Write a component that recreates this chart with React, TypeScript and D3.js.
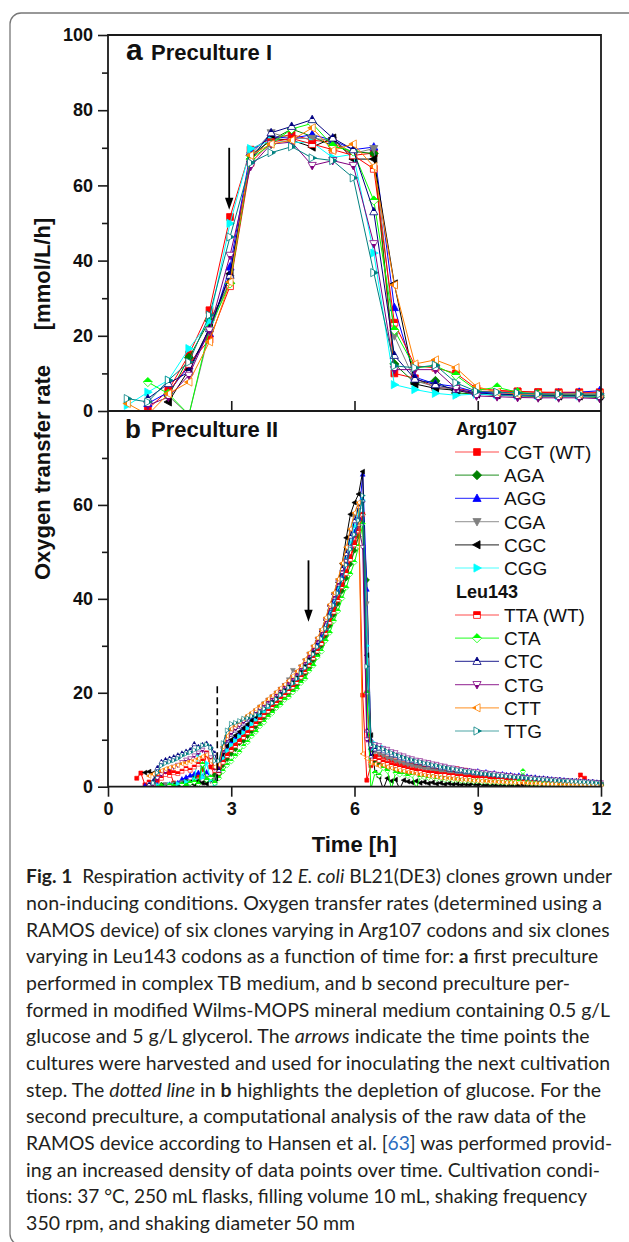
import React, { useEffect, useRef } from 'react';
import * as d3 from 'd3';

const FONT = '"Liberation Sans", Arial, Helvetica, sans-serif';
const CAP_FONT = 'Lato, "Open Sans", sans-serif';

const SERIES_NAMES = ['CGT (WT)', 'AGA', 'AGG', 'CGA', 'CGC', 'CGG', 'TTA (WT)', 'CTA', 'CTC', 'CTG', 'CTT', 'TTG'];
const SERIES_COLORS = ['#ff0000', '#008000', '#0000ff', '#808080', '#000000', '#00ffff', '#ff0000', '#00ff00', '#000080', '#800080', '#ff8000', '#008080'];
const SERIES_SHAPES = ['square', 'diamond', 'up', 'down', 'left', 'right', 'square', 'diamond', 'up', 'down', 'left', 'right'];
const SERIES_HALF = [false, false, false, false, false, false, true, true, true, true, true, true];
const GROUP_TITLES = ['Arg107', 'Leu143'];

const X_TICKS = [0, 3, 6, 9, 12];
const YA_TICKS = [0, 20, 40, 60, 80, 100];
const YA_MINOR = [10, 30, 50, 70, 90];
const YB_TICKS = [0, 20, 40, 60];
const YB_MINOR = [10, 30, 50, 70];

// ---------- Panel a (Preculture I) ----------
const A_TIMES = [0.47, 0.97, 1.47, 1.97, 2.47, 2.97, 3.47, 3.97, 4.47, 4.97, 5.47, 5.97, 6.47, 6.97, 7.47, 7.97, 8.47, 8.97, 9.47, 9.97, 10.47, 10.97, 11.47, 11.97];
const A_CGT = [null, 0.5, 5.5, 15, 26.8, 51.6, 69.5, 72.5, 73.5, 72, 71.5, 68, 68.6, 10, 8.7, 6.3, 6, 5.2, 5.3, 5.2, 5, 5, 5, 5];
const A_AGA = [null, null, 4, 14.2, 24, 34, 68, 72, 75, 73, 70.5, 69, 68.5, 12.5, 7.5, 8, 4.8, 4.5, 4.2, 4, 3.8, 3.8, 3.8, 3.6];
const A_AGG = [null, 2, 5, 12, 20.6, 38.3, 69, 73, 72.5, 73.5, 72, 69.5, 70.2, 27.5, 9, 7.2, 6.5, 5, 4.8, 4.7, 4.7, 4.8, 5, 5.4];
const A_CGA = [null, null, 4, -1, 21, 35.2, 68, 74, 72.5, 72.5, 72, 68.5, 69.8, 20, 8, 6.5, 5.7, 4.5, 4.2, 4, 4, 4, 3.9, 3.8];
const A_CGC = [null, null, 2.4, 11, 22, 36.5, 67, 72.5, 72, 70.2, 72.6, 67, 67, 33.8, 7.2, 6, 5.5, 4.5, 4.3, 4.2, 4.1, 4, 4, 4];
const A_CGG = [1.5, 5, 8.2, 16.6, 23.7, 49.9, 69.8, 72, 71.5, 71.4, 67.4, 68.3, 42, 7, 5.7, 4.7, 4.2, 4.5, 4.3, 4.2, 4.1, 4, 4, 4];
const A_TTA = [null, null, 5, 12.5, 19, 33.2, 66, 71.5, 72.5, 71, 69.5, 68, 64.4, 23.5, 12, 11.5, 10, 6, 5.5, 5.2, 5, 4.8, 4.8, 4.8];
const A_CTA = [null, 7.7, 4.6, -1, 22, 33.9, 67, 71, 75, 76.5, 70.5, 69, 56, 21.5, 11.5, 12, 9.5, 5.5, 6.3, 5, 4.5, 4.2, 4.2, 4];
const A_CTC = [null, 3.3, 7.3, 10.4, 21.9, 36.1, 67, 74, 75.7, 77.5, 72.6, 69.5, 53, 14.8, 8.5, 7, 5.8, 4.8, 4.5, 4.3, 4.2, 4.2, 4.2, 4.2];
const A_CTG = [null, 1.5, 3.7, 9.5, 21.5, 41.4, 65, 71, 71.5, 65.3, 66.6, 65.3, 44.5, 11, 11, 11, 6, 4, 3.8, 3.6, 3.5, 3.5, 3.5, 3.3];
const A_CTT = [2, -1, 4.6, 7.7, 18.4, 34.3, 68, 71, 72, 75.3, 69.3, 71, 65, 33.5, 12.5, 13.6, 11.5, 6.5, 5, 4.5, 4.5, 4.5, 4.5, 4.5];
const A_TTG = [3.3, 2.4, 8.2, 13, 25.5, 46.3, 66, 68.7, 70.3, 67.3, 66.6, 62, 36.8, 12, 11.5, 12.2, 7.5, 5.2, 5, 4.8, 4.5, 4.5, 4.5, 4.5];

// ---------- Panel b (Preculture II): samples every 0.1 h from 0.7 h ----------
const B_T0 = 0.7;
const B_STEP = 0.1;
const B_CGT = [
  1.8, 2.9, 0.4, 0.2, 0.5, 1.3, 3.1, 3.2, 3.3, 0.8,
  -0.6, -0.4, 0.3, 0.9, 1.6, 2.4, 3.6, 6.8, 4.2, 2.6,
  3.0, 5.4, 6.9, 8.1, 9.0, 10.0, 11.2, 11.8, 12.4, 13.6,
  14.5, 15.4, 16.3, 17.5, 18.1, 18.9, 19.4, 20.5, 21.4, 22.8,
  23.5, 24.7, 26.1, 27.3, 29.1, 30.8, 32.9, 35.3, 38.0, 40.1,
  43.0, 45.8, 49.0, 52.0, 57.0, 19.5, 1.4, 4.5, 6.5, 6.8,
  6.4, 6.1, 5.6, 5.5, 5.0, 4.9, 4.6, 4.8, 4.3, 4.5,
  4.2, 4.6, 4.0, 3.8, 3.9, 3.5, 3.7, 3.4, 3.8, 3.2,
  3.5, 3.0, 2.8, 2.9, 2.6, 2.5, 2.3, 2.4, 2.1, 2.0,
  1.8, 1.9, 1.6, 1.5, 1.4, 1.6, 1.3, 1.2, 1.1, 1.0,
  1.1, 0.9, 0.8, 0.8, 0.7, 0.8, 0.6, 0.7, 2.5, 1.8,
  0.7, 0.5, 0.5, 0.4,
];
const B_AGA = [
  null, null, null, 0.3, -0.5, 0.2, 0.4, -0.4, 0.3, 0.6,
  0.2, 0.9, 1.4, 0.8, 2.2, 1.0, 4.6, 1.2, 1.8, 2.5,
  2.6, 4.6, 5.9, 7.0, 8.0, 9.3, 9.8, 10.8, 11.8, 12.8,
  13.8, 14.7, 15.7, 16.2, 17.5, 18.4, 19.2, 19.9, 20.4, 21.7,
  22.8, 24.1, 25.3, 26.9, 28.0, 30.0, 32.1, 34.3, 36.6, 39.0,
  41.7, 44.4, 47.4, 50.3, 53.3, 58.0, 44.0, 8.0, 5.5, 4.8,
  4.5, 3.9, 4.2, 3.6, 3.3, 3.5, 3.0, 2.8, 3.1, 2.6,
  2.5, 2.3, 2.6, 2.2, 2.0, 2.1, 1.8, 1.9, 1.6, 1.7,
  1.5, 1.4, 1.6, 1.3, 1.2, 1.4, 1.1, 1.0, 1.2, 0.9,
  0.9, 1.0, 0.8, 0.8, 0.7, 0.9, 0.7, 0.6, 0.7, 0.6,
  0.5, 0.6, 0.5, 0.5, 0.4, 0.5, 0.4, 0.4, 0.5, 0.4,
  0.3, 0.4, 0.3, 0.3,
];
const B_AGG = [
  null, null, 0.2, -0.3, 0.1, 0.4, -0.2, 0.3, 0.5, 0.2,
  0.8, 1.6, 2.0, 2.4, 2.7, 3.0, 2.2, 3.1, 2.0, 1.2,
  3.7, 6.5, 8.4, 9.6, 10.5, 11.4, 12.2, 13.0, 14.2, 14.7,
  15.5, 16.3, 17.2, 18.0, 18.5, 19.7, 20.5, 21.3, 22.2, 23.2,
  24.8, 25.6, 27.0, 28.5, 30.1, 31.8, 33.6, 36.6, 38.9, 41.6,
  44.7, 47.7, 51.1, 54.3, 57.3, 66.5, 42.0, 10.0, 8.8, 8.4,
  7.9, 7.6, 7.1, 6.9, 6.5, 6.3, 5.9, 5.8, 5.5, 5.4,
  5.1, 5.0, 4.7, 4.6, 4.3, 4.2, 3.9, 3.9, 3.6, 3.6,
  3.4, 3.4, 3.2, 3.3, 3.0, 3.1, 2.8, 2.9, 2.6, 2.7,
  2.5, 2.5, 2.3, 2.4, 2.1, 2.2, 2.0, 2.0, 1.8, 1.8,
  1.7, 1.6, 1.5, 1.5, 1.4, 1.3, 1.3, 1.2, 1.1, 1.1,
  1.0, 1.0, 0.9, 0.9,
];
const B_CGA = [
  null, null, null, -0.3, 0.4, 0.2, -0.4, 0.5, 0.3, 0.6,
  0.4, 0.9, 0.5, 1.1, 0.6, 1.4, 0.8, 1.9, 1.2, 1.5,
  4.6, 8.2, 10.5, 11.9, 12.7, 13.5, 14.2, 14.9, 15.5, 16.2,
  17.0, 17.7, 18.5, 19.2, 20.0, 20.8, 21.6, 22.8, 24.8, 24.4,
  25.6, 26.9, 28.3, 29.8, 31.5, 33.3, 35.7, 38.5, 41.0, 43.9,
  47.2, 50.6, 54.4, 57.8, 59.0, 60.5, 39.0, 9.5, 7.5, 7.0,
  6.6, 6.1, 5.9, 5.4, 5.2, 4.9, 4.6, 4.5, 4.2, 4.1,
  3.8, 3.7, 3.5, 3.3, 3.2, 3.0, 2.9, 2.7, 2.7, 2.5,
  2.4, 2.3, 2.2, 2.2, 2.0, 2.0, 1.9, 1.8, 1.8, 1.7,
  1.6, 1.6, 1.5, 1.4, 1.4, 1.3, 1.3, 1.2, 1.2, 1.1,
  1.1, 1.0, 1.0, 0.9, 0.9, 0.9, 0.8, 0.8, 0.7, 0.7,
  0.7, 0.6, 0.6, 0.6,
];
const B_CGC = [
  null, null, 3.0, 3.2, 2.9, -0.5, 0.2, -0.3, 0.1, 0.4,
  0.2, 0.6, 0.3, 0.9, 0.5, 1.2, 0.8, 0.6, 1.5, 0.9,
  3.8, 6.8, 8.7, 10.0, 10.9, 11.7, 12.5, 13.3, 14.1, 14.9,
  15.7, 16.6, 17.4, 18.2, 19.0, 19.9, 20.7, 21.5, 22.4, 23.4,
  24.5, 25.8, 27.2, 28.7, 31.0, 33.0, 35.5, 38.5, 41.0, 43.5,
  47.5, 53.0, 58.0, 60.5, 62.3, 67.1, 28.0, 11.0, 3.0, 2.1,
  -0.5, 1.8, 1.2, 1.5, -0.5, 1.4, 1.1, 0.9, 1.2, 0.8,
  1.0, 0.7, 0.9, 0.6, 0.8, 0.5, 0.7, 0.5, 0.6, 0.4,
  0.5, 0.4, 0.6, 0.4, 0.5, 0.3, 0.4, 0.4, 0.3, 0.4,
  0.3, 0.4, 0.3, 0.3, 0.4, 0.3, 0.3, 0.2, 0.3, 0.3,
  0.2, 0.3, 0.2, 0.2, 0.3, 0.2, 0.2, 0.2, 0.2, 0.2,
  0.2, 0.2, 0.1, 0.2,
];
const B_CGG = [
  null, null, null, null, -0.3, 0.3, 0.1, -0.2, 0.4, 0.2,
  0.6, 0.3, 1.0, 0.8, 1.5, 7.0, 2.0, 5.0, 1.5, 0.5,
  3.4, 6.0, 7.7, 8.9, 9.8, 10.7, 11.5, 12.4, 13.3, 14.1,
  15.0, 15.9, 16.7, 17.6, 18.5, 19.3, 20.1, 20.9, 21.8, 22.8,
  23.9, 25.1, 26.5, 28.0, 29.6, 31.3, 33.5, 37.5, 40.0, 42.5,
  45.5, 48.5, 52.0, 55.5, 58.5, 61.0, 30.0, 8.0, 9.2, 8.7,
  8.3, 7.7, 7.4, 6.9, 6.7, 6.2, 6.1, 5.7, 5.6, 5.2,
  5.1, 4.8, 4.7, 4.4, 4.3, 4.0, 3.9, 3.7, 3.6, 3.4,
  3.3, 3.1, 3.1, 2.9, 2.9, 2.7, 2.7, 2.5, 2.5, 2.3,
  2.3, 2.2, 2.1, 2.0, 2.0, 1.8, 1.8, 1.7, 1.6, 1.6,
  1.5, 1.4, 1.4, 1.3, 1.2, 1.2, 1.1, 1.1, 1.0, 1.0,
  0.9, 0.9, 0.8, 0.8,
];
const B_TTA = [
  null, null, null, 1.0, 0.5, 2.2, 1.8, 2.6, 2.4, 3.0,
  2.8, 3.3, 3.9, 3.5, 4.2, 4.8, 5.5, 7.2, 5.8, 3.5,
  2.9, 5.2, 6.6, 7.8, 8.7, 9.6, 10.5, 11.5, 12.4, 13.4,
  14.3, 15.2, 16.1, 17.0, 17.9, 18.7, 19.5, 20.3, 21.2, 22.2,
  23.3, 24.5, 25.9, 27.4, 28.9, 30.5, 32.7, 35.0, 37.2, 39.8,
  42.6, 45.4, 48.4, 51.5, 54.5, 58.0, 20.0, 5.0, 6.0, 5.6,
  5.3, 5.0, 4.6, 4.5, 4.1, 4.0, 3.7, 3.6, 3.4, 3.3,
  3.1, 3.0, 2.9, 2.8, 2.6, 2.6, 2.4, 2.4, 2.2, 2.2,
  2.0, 2.1, 1.9, 1.9, 1.8, 1.8, 1.7, 1.7, 1.6, 1.6,
  1.5, 1.5, 1.4, 1.4, 1.3, 1.3, 1.2, 1.2, 1.1, 1.1,
  1.0, 1.0, 0.9, 0.9, 0.9, 0.8, 0.8, 0.8, 0.7, 0.7,
  0.7, 0.6, 0.6, 0.6,
];
const B_CTA = [
  null, null, null, null, null, -0.3, 0.2, -0.4, 0.3, 0.1,
  -0.3, 0.5, 0.2, 0.8, 1.0, 0.6, 4.8, 1.5, 2.0, 0.8,
  1.8, 3.3, 4.6, 5.4, 6.6, 7.4, 8.6, 9.5, 10.8, 11.7,
  12.9, 13.7, 14.9, 15.7, 16.8, 17.5, 18.5, 19.1, 20.1, 20.9,
  22.1, 23.0, 24.7, 25.8, 27.6, 28.8, 31.1, 32.8, 35.3, 37.4,
  40.1, 42.4, 45.3, 47.8, 51.2, 56.0, 20.0, -0.5, 3.0, 2.4,
  4.0, 3.4, -0.5, 3.0, 2.6, 2.8, 2.3, 2.5, -0.5, 2.1,
  2.0, 1.9, 2.1, 1.7, 1.8, 1.5, 1.6, 1.4, 1.5, 1.3,
  1.2, 1.3, 1.1, 1.2, 1.0, 1.1, 0.9, 1.0, 0.9, 0.9,
  0.8, 0.9, 0.8, 1.2, 3.3, 0.8, 0.7, 0.7, 0.6, 0.7,
  0.6, 0.6, 0.5, 0.6, 0.5, 0.5, 0.5, 0.4, 0.5, 0.4,
  0.4, 0.4, 0.3, 0.4,
];
const B_CTC = [
  null, null, null, 0.5, 1.2, 4.0, 5.3, 5.7, 6.0, 6.3,
  6.7, 7.1, 7.5, 7.8, 9.1, 8.5, 8.9, 9.2, 8.5, 7.1,
  3.5, 7.6, 9.8, 11.1, 12.0, 12.8, 13.5, 14.3, 15.0, 15.7,
  16.5, 17.3, 18.0, 18.8, 19.6, 20.5, 21.3, 22.1, 23.0, 24.0,
  25.2, 26.4, 27.9, 29.4, 31.0, 32.8, 35.1, 37.9, 40.3, 43.1,
  46.4, 49.6, 53.3, 56.6, 59.6, 61.0, 12.0, 6.5, 8.0, 8.1,
  7.6, 7.3, 6.8, 6.6, 6.2, 6.0, 5.6, 5.5, 5.2, 5.1,
  4.8, 4.7, 4.4, 4.3, 4.0, 4.0, 3.7, 3.7, 3.4, 3.4,
  3.2, 3.2, 3.0, 3.0, 2.8, 2.8, 2.6, 2.6, 2.4, 2.4,
  2.3, 2.3, 2.1, 2.1, 2.0, 1.9, 1.9, 1.8, 1.7, 1.7,
  1.6, 1.5, 1.5, 1.4, 1.3, 1.3, 1.2, 1.2, 1.1, 1.1,
  1.0, 1.0, 0.9, 0.9,
];
const B_CTG = [
  null, null, null, -0.3, 0.5, 1.8, 2.6, 3.2, 3.8, 4.2,
  4.6, 5.2, 5.7, 6.0, 6.6, 7.2, 7.8, 7.0, 6.2, 4.0,
  4.4, 7.9, 10.1, 11.5, 12.4, 13.1, 13.9, 14.6, 15.3, 16.0,
  16.7, 17.5, 18.3, 19.0, 19.8, 20.7, 21.5, 22.3, 23.2, 24.2,
  25.4, 26.7, 28.1, 29.6, 31.3, 33.0, 35.4, 38.2, 40.7, 43.5,
  45.5, 48.0, 51.0, 53.5, 55.5, 51.0, 10.0, 8.5, 9.0, 8.8,
  8.2, 8.0, 7.5, 7.3, 6.8, 6.6, 6.2, 6.0, 5.7, 5.6,
  5.3, 5.2, 4.9, 4.8, 4.5, 4.4, 4.1, 4.0, 3.8, 3.7,
  3.5, 3.4, 3.3, 3.2, 3.0, 3.0, 2.8, 2.8, 2.6, 2.6,
  2.4, 2.4, 2.2, 2.2, 2.0, 2.0, 1.9, 1.8, 1.7, 1.7,
  1.6, 1.5, 1.5, 1.4, 1.3, 1.3, 1.2, 1.2, 1.1, 1.1,
  1.0, 1.0, 0.9, 0.9,
];
const B_CTT = [
  null, null, null, 2.3, 2.7, 2.9, 3.4, 3.8, 4.1, 4.3,
  4.6, 4.9, 5.1, 5.4, 5.6, 6.0, 6.4, 6.8, 5.5, 4.2,
  4.7, 8.5, 10.8, 12.3, 13.1, 13.8, 14.5, 15.2, 15.8, 16.5,
  17.2, 17.9, 18.7, 19.4, 20.2, 21.0, 21.8, 22.6, 23.6, 24.6,
  25.8, 27.1, 28.5, 30.0, 31.7, 33.5, 36.0, 38.8, 41.3, 44.2,
  47.6, 51.0, 54.9, 58.3, 60.5, 7.0, 6.0, 5.2, 4.8, 4.4,
  4.6, 4.2, 4.0, 3.7, 3.5, 3.3, 3.1, 3.0, 2.8, 2.6,
  2.5, 2.3, 2.2, 2.1, 1.9, 1.8, 1.8, 1.7, 1.6, 1.5,
  1.5, 1.4, 1.3, 1.3, 1.2, 1.2, 1.1, 1.1, 1.0, 1.0,
  0.9, 0.9, 0.9, 0.8, 0.8, 0.8, 0.7, 0.7, 0.7, 0.6,
  0.6, 0.6, 0.6, 0.5, 0.5, 0.5, 0.5, 0.5, 0.4, 0.4,
  0.4, 0.4, 0.4, 0.4,
];
const B_TTG = [
  null, null, null, null, 0.8, 3.0, 4.5, 5.0, 5.3, 5.6,
  6.0, 6.6, 7.0, 7.3, 7.8, 8.2, 8.8, 9.0, 8.3, 5.5,
  5.5, 9.3, 12.0, 13.4, 13.6, 14.0, 14.5, 14.6, 15.0, 15.3,
  15.9, 16.6, 17.2, 17.8, 18.6, 19.5, 20.3, 21.1, 22.0, 23.0,
  24.1, 25.3, 26.7, 28.2, 29.8, 31.5, 33.7, 36.2, 38.6, 41.2,
  44.2, 47.2, 50.6, 53.7, 56.7, 62.0, 25.6, 9.0, 8.6, 8.2,
  8.0, 7.5, 7.2, 6.8, 6.5, 6.2, 5.9, 5.7, 5.4, 5.3,
  5.0, 4.9, 4.6, 4.5, 4.2, 4.1, 3.9, 3.8, 3.6, 3.5,
  3.3, 3.2, 3.1, 2.9, 2.8, 2.7, 2.6, 2.5, 2.4, 2.3,
  2.2, 2.1, 2.0, 2.0, 1.9, 1.8, 1.7, 1.7, 1.6, 1.5,
  1.5, 1.4, 1.3, 1.3, 1.2, 1.2, 1.1, 1.1, 1.0, 1.0,
  0.9, 0.9, 0.8, 0.8,
];

// annotation positions (data units)
const ARROW_A = { t: 2.95, from: 70, to: 53.5 };
const ARROW_B = { t: 4.88, from: 48.2, to: 35.1 };
const GLUCOSE_LINE = { t: 2.66, from: 0.8, to: 21.4 };

const CAPTION_LINES: [string, string][][] = [
  [['Fig. 1', 'b'], ['  Respiration activity of 12 ', 'n'], ['E. coli', 'i'], [' BL21(DE3) clones grown under', 'n']],
  [['non-inducing conditions. Oxygen transfer rates (determined using a', 'n']],
  [['RAMOS device) of six clones varying in Arg107 codons and six clones', 'n']],
  [['varying in Leu143 codons as a function of time for: ', 'n'], ['a', 'b'], [' first preculture', 'n']],
  [['performed in complex TB medium, and b second preculture per-', 'n']],
  [['formed in modified Wilms-MOPS mineral medium containing 0.5 g/L', 'n']],
  [['glucose and 5 g/L glycerol. The ', 'n'], ['arrows', 'i'], [' indicate the time points the', 'n']],
  [['cultures were harvested and used for inoculating the next cultivation', 'n']],
  [['step. The ', 'n'], ['dotted line', 'i'], [' in ', 'n'], ['b', 'b'], [' highlights the depletion of glucose. For the', 'n']],
  [['second preculture, a computational analysis of the raw data of the', 'n']],
  [['RAMOS device according to Hansen et al. [', 'n'], ['63', 'l'], ['] was performed provid-', 'n']],
  [['ing an increased density of data points over time. Cultivation condi-', 'n']],
  [['tions: 37 °C, 250 mL flasks, filling volume 10 mL, shaking frequency', 'n']],
  [['350 rpm, and shaking diameter 50 mm', 'n']],
];
const CAPTION_WIDTHS = [586, 576, 583.5, 572, 544, 584, 563.5, 584, 575, 560, 586, 574, 561, 329];

const A_VALUES = [A_CGT, A_AGA, A_AGG, A_CGA, A_CGC, A_CGG, A_TTA, A_CTA, A_CTC, A_CTG, A_CTT, A_TTG];
const B_VALUES = [B_CGT, B_AGA, B_AGG, B_CGA, B_CGC, B_CGG, B_TTA, B_CTA, B_CTC, B_CTG, B_CTT, B_TTG];

function markerPath(shape: string, r: number): string {
  switch (shape) {
    case 'square':
      return `M${-r},${-r}H${r}V${r}H${-r}Z`;
    case 'diamond': {
      const q = r * 1.35;
      return `M0,${-q}L${q},0L0,${q}L${-q},0Z`;
    }
    case 'up':
      return `M0,${-r * 1.3}L${r * 1.2},${r * 0.9}L${-r * 1.2},${r * 0.9}Z`;
    case 'down':
      return `M0,${r * 1.3}L${r * 1.2},${-r * 0.9}L${-r * 1.2},${-r * 0.9}Z`;
    case 'left':
      return `M${-r * 1.3},0L${r * 0.9},${-r * 1.2}L${r * 0.9},${r * 1.2}Z`;
    default:
      return `M${r * 1.3},0L${-r * 0.9},${-r * 1.2}L${-r * 0.9},${r * 1.2}Z`;
  }
}

function markerFill(i: number) {
  return SERIES_HALF[i] ? `url(#half${i})` : SERIES_COLORS[i];
}

function drawChart(root: any) {
  const x = d3.scaleLinear().domain([0, 12]).range([108, 601]);
  const yA = d3.scaleLinear().domain([0, 100]).range([411, 35]);
  const yB = d3.scaleLinear().domain([0, 80]).range([786.7, 411]);

  const defs = root.append('defs');
  defs.append('clipPath').attr('id', 'clipA').append('rect')
    .attr('x', 100).attr('y', yA(100)).attr('width', 510).attr('height', yA(0) - yA(100));
  defs.append('clipPath').attr('id', 'clipB').append('rect')
    .attr('x', 100).attr('y', yB(80)).attr('width', 510).attr('height', yB(0) - yB(80));

  SERIES_NAMES.forEach((_, i) => {
    if (!SERIES_HALF[i]) return;
    const s = SERIES_SHAPES[i];
    const dir: Record<string, number[]> = {
      square: [0, 0, 0, 1], diamond: [0, 0, 0, 1], up: [0, 0, 0, 1],
      down: [0, 1, 0, 0], left: [0, 0, 1, 0], right: [1, 0, 0, 0],
    };
    const d = dir[s];
    const lg = defs.append('linearGradient').attr('id', `half${i}`)
      .attr('x1', d[0]).attr('y1', d[1]).attr('x2', d[2]).attr('y2', d[3]);
    lg.append('stop').attr('offset', 0).attr('stop-color', SERIES_COLORS[i]);
    lg.append('stop').attr('offset', 0.5).attr('stop-color', SERIES_COLORS[i]);
    lg.append('stop').attr('offset', 0.5).attr('stop-color', '#ffffff');
    lg.append('stop').attr('offset', 1).attr('stop-color', '#ffffff');
  });

  type P = { t: number; v: number | null };
  const drawSeries = (g: any, pts: P[], yS: any, i: number, r: number, sw: number) => {
    const line = d3.line<P>()
      .defined((d) => d.v != null)
      .x((d) => x(d.t))
      .y((d) => yS(d.v as number));
    g.append('path').attr('d', line(pts)).attr('fill', 'none')
      .attr('stroke', SERIES_COLORS[i]).attr('stroke-width', 1).attr('stroke-linejoin', 'round');
    g.append('g').selectAll('path').data(pts.filter((d) => d.v != null)).join('path')
      .attr('d', markerPath(SERIES_SHAPES[i], r))
      .attr('transform', (d: P) => `translate(${x(d.t)},${yS(d.v as number)})`)
      .attr('fill', markerFill(i))
      .attr('stroke', SERIES_COLORS[i])
      .attr('stroke-width', sw);
  };

  const gA = root.append('g').attr('clip-path', 'url(#clipA)');
  A_VALUES.forEach((vals, i) => {
    const pts = A_TIMES.map((t, k) => ({ t, v: vals[k] as number | null }));
    drawSeries(gA, pts, yA, i, 3.4, 0.8);
  });
  const gB = root.append('g').attr('clip-path', 'url(#clipB)');
  B_VALUES.forEach((vals, i) => {
    const pts = vals.map((v, k) => ({ t: B_T0 + k * B_STEP, v: v as number | null }));
    drawSeries(gB, pts, yB, i, 2.0, 0.6);
  });

  // ---------- axes ----------
  const styleAxis = (ax: any, withText: boolean) => {
    ax.select('.domain').remove();
    ax.selectAll('line').attr('stroke', '#1a1a1a').attr('stroke-width', 1.6);
    if (withText) {
      ax.selectAll('text').attr('font-family', FONT).attr('font-size', 18)
        .attr('font-weight', 'bold').attr('fill', '#111');
    }
  };
  styleAxis(root.append('g').attr('transform', 'translate(108,0)')
    .call(d3.axisLeft(yA).tickValues(YA_TICKS).tickSize(10).tickPadding(5).tickSizeOuter(0)), true);
  styleAxis(root.append('g').attr('transform', 'translate(108,0)')
    .call(d3.axisLeft(yA).tickValues(YA_MINOR).tickSize(6).tickFormat(() => '').tickSizeOuter(0)), false);
  styleAxis(root.append('g').attr('transform', 'translate(108,0)')
    .call(d3.axisLeft(yB).tickValues(YB_TICKS).tickSize(10).tickPadding(5).tickSizeOuter(0)), true);
  styleAxis(root.append('g').attr('transform', 'translate(108,0)')
    .call(d3.axisLeft(yB).tickValues(YB_MINOR).tickSize(6).tickFormat(() => '').tickSizeOuter(0)), false);
  styleAxis(root.append('g').attr('transform', `translate(0,${yB(0)})`)
    .call(d3.axisBottom(x).tickValues(X_TICKS).tickSize(10).tickPadding(6).tickSizeOuter(0)), true);
  styleAxis(root.append('g').attr('transform', `translate(0,${yA(0)})`)
    .call(d3.axisTop(x).tickValues(X_TICKS.slice(1, -1)).tickSize(10).tickFormat(() => '').tickSizeOuter(0)), false);

  // frames
  root.append('path')
    .attr('d', `M${x(0)},${yA(100)}H${x(12)}V${yB(0)}H${x(0)}Z M${x(0)},${yA(0)}H${x(12)}`)
    .attr('fill', 'none').attr('stroke', '#1a1a1a').attr('stroke-width', 1.8);

  // arrows
  const drawArrow = (xs: number, y0: number, y1: number) => {
    root.append('line').attr('x1', xs).attr('x2', xs).attr('y1', y0).attr('y2', y1 - 8)
      .attr('stroke', '#000').attr('stroke-width', 1.8);
    root.append('path').attr('d', `M${xs},${y1}L${xs - 4.2},${y1 - 12}L${xs + 4.2},${y1 - 12}Z`).attr('fill', '#000');
  };
  drawArrow(x(ARROW_A.t), yA(ARROW_A.from), yA(ARROW_A.to));
  drawArrow(x(ARROW_B.t), yB(ARROW_B.from), yB(ARROW_B.to));
  root.append('line').attr('x1', x(GLUCOSE_LINE.t)).attr('x2', x(GLUCOSE_LINE.t))
    .attr('y1', yB(GLUCOSE_LINE.to)).attr('y2', yB(GLUCOSE_LINE.from))
    .attr('stroke', '#000').attr('stroke-width', 1.6).attr('stroke-dasharray', '7,4');

  // legend
  const lg = root.append('g');
  const legendRows: { kind: string; i: number; y: number }[] = [];
  legendRows.push({ kind: 'title', i: 0, y: 428 });
  for (let k = 0; k < 6; k++) legendRows.push({ kind: 'item', i: k, y: 452 + 23.2 * k });
  legendRows.push({ kind: 'title', i: 1, y: 591.7 });
  for (let k = 0; k < 6; k++) legendRows.push({ kind: 'item', i: 6 + k, y: 615 + 23.2 * k });
  legendRows.forEach((row) => {
    if (row.kind === 'title') {
      lg.append('text').attr('x', 456).attr('y', row.y + 6.5).text(GROUP_TITLES[row.i])
        .attr('font-family', FONT).attr('font-size', 18).attr('font-weight', 'bold').attr('fill', '#111');
    } else {
      const i = row.i;
      lg.append('line').attr('x1', 455).attr('x2', 499).attr('y1', row.y).attr('y2', row.y)
        .attr('stroke', SERIES_COLORS[i]).attr('stroke-width', 1.2).attr('stroke-opacity', 0.7);
      lg.append('path').attr('d', markerPath(SERIES_SHAPES[i], 3.4))
        .attr('transform', `translate(477,${row.y})`)
        .attr('fill', markerFill(i)).attr('stroke', SERIES_COLORS[i]).attr('stroke-width', 0.8);
      lg.append('text').attr('x', 504).attr('y', row.y + 7).text(SERIES_NAMES[i])
        .attr('font-family', FONT).attr('font-size', 19).attr('fill', '#111');
    }
  });
}

export default function App() {
  const ref = useRef<SVGGElement>(null);
  useEffect(() => {
    const g = d3.select(ref.current);
    g.selectAll('*').remove();
    drawChart(g);
  }, []);

  const capStyle = (s: string): any => {
    if (s === 'b') return { fontWeight: 'bold' };
    if (s === 'i') return { fontStyle: 'italic' };
    if (s === 'l') return { fill: '#2b6cc0' };
    return {};
  };

  return (
    <svg width={629} height={1242} style={{ position: 'absolute', left: 0, top: 0, background: '#fff' }}>
      <rect x={10} y={13} width={640} height={1232} rx={11} fill="#fff" stroke="#777" strokeWidth={1.3} />
      <g ref={ref} />
      <text x={126} y={60} fontFamily={FONT} fontSize={30} fontWeight="bold" fill="#111">a</text>
      <text x={151} y={59.5} fontFamily={FONT} fontSize={22} fontWeight="bold" fill="#111">Preculture I</text>
      <text x={125} y={438} fontFamily={FONT} fontSize={26} fontWeight="bold" fill="#111">b</text>
      <text x={151} y={437} fontFamily={FONT} fontSize={22} fontWeight="bold" fill="#111">Preculture II</text>
      <text transform="translate(50,472.5) rotate(-90)" textAnchor="middle" fontFamily={FONT} fontSize={22} fontWeight="bold" fill="#111">Oxygen transfer rate</text>
      <text transform="translate(50,274) rotate(-90)" textAnchor="middle" fontFamily={FONT} fontSize={22} fontWeight="bold" fill="#111">[mmol/L/h]</text>
      <text x={354.3} y={852} textAnchor="middle" fontFamily={FONT} fontSize={22} fontWeight="bold" fill="#111">Time [h]</text>
      {CAPTION_LINES.map((segs, k) => (
        <text key={k} x={26.1} y={883.3 + 26.67 * k} fontFamily={CAP_FONT} fontSize={19} fill="#231f20"
          textLength={CAPTION_WIDTHS[k]} lengthAdjust="spacingAndGlyphs" style={{ whiteSpace: 'pre' }}>
          {segs.map(([t, s], j) => (
            <tspan key={j} style={capStyle(s)}>{t}</tspan>
          ))}
        </text>
      ))}
    </svg>
  );
}
